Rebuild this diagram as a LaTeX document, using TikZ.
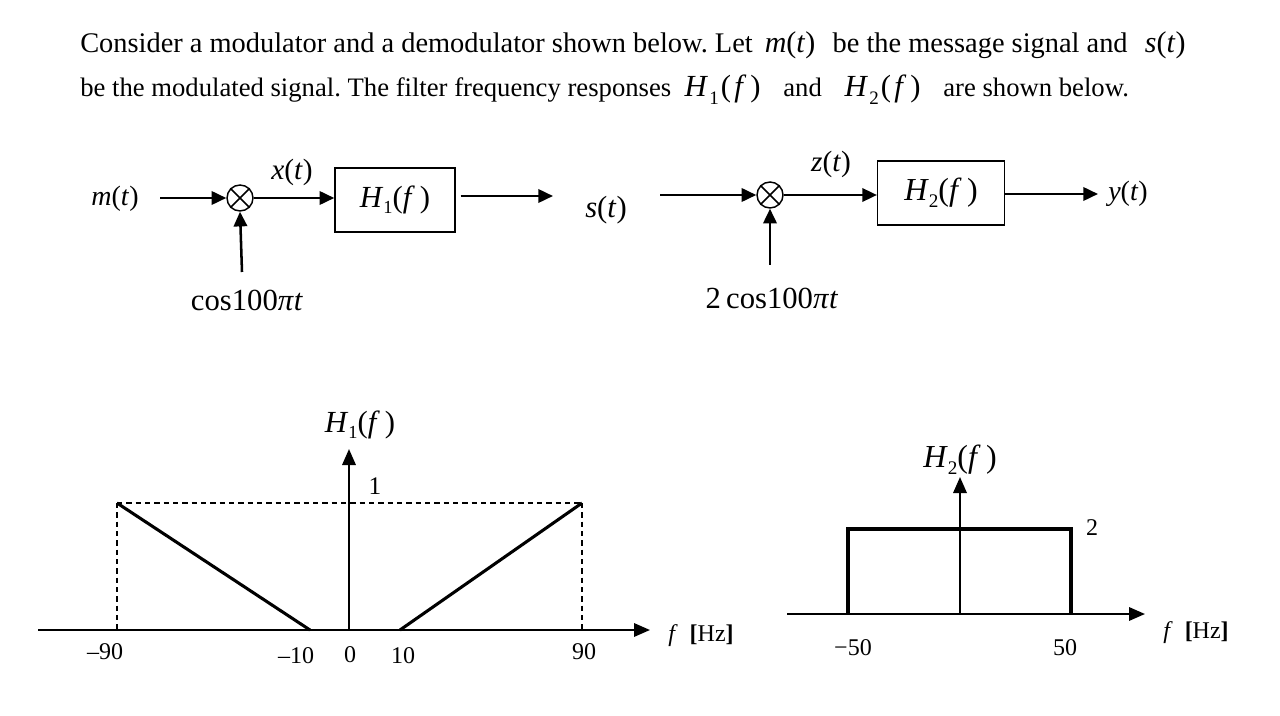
\documentclass[tikz,border=0pt]{standalone}
\usepackage{fontspec}
\setmainfont{Liberation Serif}
\usetikzlibrary{arrows.meta,calc}
\newcommand{\iv}[1]{\textit{#1}}
\newcommand{\Hsub}[1]{\iv{H}\raisebox{-0.45ex}{\scalebox{0.6}{#1}}(\iv{f}\,)}
\newcommand{\Hm}[1]{{\fontsize{23}{25}\selectfont\iv{H}\kern1pt\raisebox{-0.55ex}{\scalebox{0.62}{#1}}\kern1.5pt(\kern2.5pt\iv{f}\kern3pt)}}
\newcommand{\Mm}[1]{{\fontsize{22.5}{25}\selectfont\iv{#1}(\iv{t})}}
\tikzset{
  sig/.style={line width=1.9pt,-{Triangle[length=11pt,width=10pt]}},
  mult/.style={circle,draw,line width=1.1pt,minimum size=19.5pt,inner sep=0pt},
  blk/.style={draw,line width=1.1pt,minimum width=90pt,minimum height=48pt,font=\fontsize{23}{25}\selectfont},
  lab/.style={font=\fontsize{21}{23}\selectfont,inner sep=0pt},
  plab/.style={font=\fontsize{18}{20}\selectfont,inner sep=0pt},
  axis/.style={line width=1.7pt,-{Triangle[length=12pt,width=10pt]}},
  curve/.style={line width=2.3pt},
  guide/.style={line width=0.8pt,dash pattern=on 4pt off 3pt},
  txt/.style={inner sep=0pt,anchor=base west}
}
\begin{document}
\frenchspacing
\begin{tikzpicture}[x=0.75pt,y=-0.75pt]
\useasboundingbox[fill=white] (0,0) rectangle (1280,716);
% text
\node[txt,font=\fontsize{21.3}{24}\selectfont] (l1) at (80,53) {Consider a modulator and a demodulator shown below. Let\hspace{9pt}\Mm{m}\hspace{13pt}be the message signal and\hspace{13pt}\Mm{s}};
\node[txt,font=\fontsize{20}{24}\selectfont] (l2) at (80,97) {be the modulated signal. The filter frequency responses\hspace{10pt}\Hm{1}\hspace{17pt}and\hspace{17pt}\Hm{2}\hspace{17pt}are shown below.};
% modulator
\node[lab] (mt) at (115,199) {\iv{m}(\iv{t})};
\coordinate (min) at (160,198);
\node[mult] (m1) at (240,198) {};
\draw[line width=1.1pt] (m1.north west) -- (m1.south east) (m1.north east) -- (m1.south west);
\node[lab,font=\fontsize{22}{24}\selectfont] (xt) at (292,172) {\iv{x}(\iv{t})};
\node[blk] (h1) at (395,200) {\Hsub{1}};
\coordinate (h1out) at (553,196);
\node[lab,font=\fontsize{23}{25}\selectfont] (st) at (606,210) {\iv{s}(\iv{t})};
\node[lab,font=\fontsize{23}{25}\selectfont] (c1) at (247,300) {cos100\iv{π}\iv{t}};
\coordinate (c1top) at (242,272);
\draw[sig] (min) -- (m1.west);
\draw[sig] (m1.east) -- (m1.east -| h1.west);
\draw[sig] (h1.east |- h1out) ++(5,0) -- (h1out);
\draw[sig] (c1top) -- (m1.south);
% demodulator
\coordinate (din) at (660,195);
\node[mult] (m2) at (770,195) {};
\draw[line width=1.1pt] (m2.north west) -- (m2.south east) (m2.north east) -- (m2.south west);
\node[lab,font=\fontsize{22}{24}\selectfont] (zt) at (831,164) {\iv{z}(\iv{t})};
\node[blk,minimum width=95pt,font=\fontsize{24}{26}\selectfont] (h2) at (941,193) {\Hsub{2}};
\coordinate (yout) at (1098,194);
\node[lab] (yt) at (1128,194) {\iv{y}(\iv{t})};
\node[lab,font=\fontsize{23}{25}\selectfont] (c2) at (772,298) {2\,cos100\iv{π}\iv{t}};
\coordinate (c2top) at (770,265);
\draw[sig] (din) -- (m2.west);
\draw[sig] (m2.east) -- (m2.east -| h2.west);
\draw[sig] (h2.east |- yout) -- (yout);
\draw[sig] (c2top) -- (m2.south);
% plot 1
\coordinate (o1) at (349,630);
\coordinate (ax1l) at (38,630);
\coordinate (ax1r) at (650,630);
\coordinate (ay1) at (349,449);
\coordinate (p1a) at (117,503);
\coordinate (p1b) at (310,630);
\coordinate (p1c) at (400,630);
\coordinate (p1d) at (582,503);
\draw[guide] (p1a) -- (p1d);
\draw[guide] (p1a) -- (p1a |- o1);
\draw[guide] (p1d) -- (p1d |- o1);
\draw[axis] (ax1l) -- (ax1r);
\draw[axis] (o1) -- (ay1);
\draw[curve] (p1a) -- (p1b);
\draw[curve] (p1c) -- (p1d);
\node[plab,font=\fontsize{23}{25}\selectfont] (h1l) at (360,425) {\Hsub{1}};
\node[plab,font=\fontsize{19}{21}\selectfont] (one) at (375,486) {1};
\node[plab] (t90n) at (105,652) {\textendash 90};
\node[plab] (t10n) at (296,656) {\textendash 10};
\node[plab] (t0) at (350,655) {0};
\node[plab] (t10) at (403,656) {10};
\node[plab] (t90) at (584,652) {90};
\node[plab,font=\fontsize{18}{20}\selectfont] (fhz1) at (701,636) {\iv{f} \ \textbf{[}Hz\textbf{]}};
% plot 2
\coordinate (o2) at (960,614);
\coordinate (ax2l) at (787,614);
\coordinate (ax2r) at (1145,614);
\coordinate (ay2) at (960,477);
\coordinate (q1) at (848,614);
\coordinate (q2) at (848,529);
\coordinate (q3) at (1071,529);
\coordinate (q4) at (1071,614);
\draw[axis] (ax2l) -- (ax2r);
\draw[axis] (o2) -- (ay2);
\draw[curve,line width=2.6pt] (q1) -- (q2) -- (q3) -- (q4);
\node[plab,font=\fontsize{24}{26}\selectfont] (h2l) at (960,460) {\Hsub{2}};
\node[plab] (two) at (1092,528) {2};
\node[plab] (t50n) at (853,648) {\textminus 50};
\node[plab] (t50) at (1065,648) {50};
\node[plab,font=\fontsize{18}{20}\selectfont] (fhz2) at (1196,633) {\iv{f} \ \textbf{[}Hz\textbf{]}};
\end{tikzpicture}
\end{document}
